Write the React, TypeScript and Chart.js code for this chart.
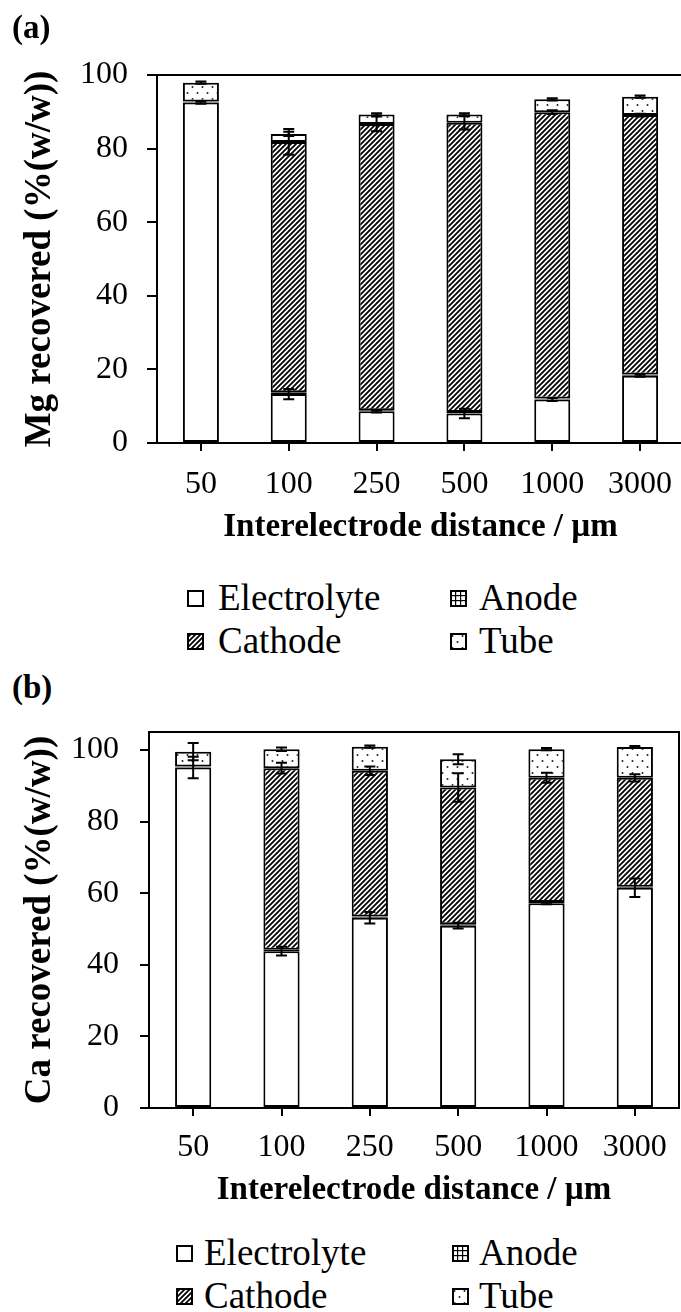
import React, { useEffect, useRef } from 'react';
import { Chart, registerables } from 'chart.js';

Chart.register(...registerables);

const SERIF = "'Liberation Serif', serif";

const categories = ['50', '100', '250', '500', '1000', '3000'];
const seriesNames = ['Electrolyte', 'Anode', 'Cathode', 'Tube'];
const yTickValues = [0, 20, 40, 60, 80, 100];

// (a) Mg recovered (%(w/w)) — stacked segments
const mgElectrolyte = [92.5, 13.3, 8.6, 8.0, 11.8, 18.3];
const mgAnode = [0.3, 0.5, 0.3, 0.4, 0.3, 0.3];
const mgCathode = [0, 68.0, 77.8, 78.6, 77.8, 70.5];
const mgTube = [5.1, 2.2, 2.6, 2.3, 3.5, 5.0];
const mgElectrolyteErr = [0.3, 1.4, 0.3, 1.3, 0.4, 0.3];
const mgCathodeErr = [0, 3.5, 2.0, 1.8, 0.5, 0.4];
const mgTubeErr = [0.3, 0.6, 0.3, 0.3, 0.3, 0.3];
const mgMax = 100;

// (b) Ca recovered (%(w/w)) — stacked segments
const caElectrolyte = [95.1, 43.8, 53.1, 50.9, 57.2, 61.5];
const caAnode = [0.3, 0.4, 0.4, 0.4, 0.3, 0.3];
const caCathode = [0, 50.7, 40.7, 38.2, 34.7, 30.4];
const caTube = [4.1, 5.3, 6.7, 7.9, 8.0, 8.6];
const caElectrolyteErr = [3.0, 1.2, 1.6, 0.8, 0.3, 2.6];
const caCathodeErr = [0, 1.5, 1.2, 4.0, 1.4, 1.0];
const caTubeErr = [2.4, 0.5, 0.3, 1.4, 0.3, 0.3];
const caMax = 105;

function makeTile(kind: string): HTMLCanvasElement | null {
  const t = document.createElement('canvas');
  const g = t.getContext('2d')!;
  if (kind === 'Cathode') {
    const s = 5;
    t.width = s; t.height = s;
    g.fillStyle = '#fff'; g.fillRect(0, 0, s, s);
    g.strokeStyle = '#000'; g.lineWidth = 1.8;
    g.beginPath();
    for (const k of [-s, 0, s]) {
      g.moveTo(k - 1, s + 1);
      g.lineTo(k + s + 1, -1);
    }
    g.stroke();
    return t;
  }
  if (kind === 'Tube') {
    t.width = 10; t.height = 12;
    g.fillStyle = '#fff'; g.fillRect(0, 0, 10, 12);
    g.fillStyle = '#222';
    g.beginPath(); g.arc(2.5, 3, 1.0, 0, Math.PI * 2); g.fill();
    g.beginPath(); g.arc(7.5, 9, 1.0, 0, Math.PI * 2); g.fill();
    return t;
  }
  if (kind === 'Anode') {
    t.width = 5; t.height = 5;
    g.fillStyle = '#fff'; g.fillRect(0, 0, 5, 5);
    g.fillStyle = '#000';
    g.fillRect(0, 0, 5, 1.2);
    g.fillRect(0, 0, 1.2, 5);
    return t;
  }
  return null;
}

function makeFill(ctx: CanvasRenderingContext2D, kind: string): string | CanvasPattern {
  const tile = makeTile(kind);
  if (!tile) return '#ffffff';
  return ctx.createPattern(tile, 'repeat') as CanvasPattern;
}

const framePlugin = {
  id: 'frame',
  afterDraw(chart: any) {
    const { ctx, chartArea: a } = chart;
    ctx.save();
    ctx.strokeStyle = '#000';
    ctx.lineWidth = 2;
    ctx.strokeRect(a.left, a.top, a.right - a.left, a.bottom - a.top);
    ctx.restore();
  },
};

const errorBarPlugin = {
  id: 'errorBars',
  afterDatasetsDraw(chart: any, _args: any, opts: any) {
    const errs: (number[] | null)[] = opts.errors || [];
    const y = chart.scales.y;
    const ctx = chart.ctx;
    ctx.save();
    ctx.strokeStyle = '#000';
    ctx.lineWidth = 2;
    errs.forEach((arr, di) => {
      if (!arr) return;
      const meta = chart.getDatasetMeta(di);
      arr.forEach((e, i) => {
        const v = chart.data.datasets[di].data[i];
        if (!e || !v) return;
        const el = meta.data[i];
        const cx = el.x;
        const cy = el.y;
        const d = Math.abs(y.getPixelForValue(0) - y.getPixelForValue(e));
        ctx.beginPath();
        ctx.moveTo(cx, cy - d); ctx.lineTo(cx, cy + d);
        ctx.moveTo(cx - 5.5, cy - d); ctx.lineTo(cx + 5.5, cy - d);
        ctx.moveTo(cx - 5.5, cy + d); ctx.lineTo(cx + 5.5, cy + d);
        ctx.stroke();
      });
    });
    ctx.restore();
  },
};

interface PanelCfg {
  values: number[][];
  errors: (number[] | null)[];
  yMax: number;
  yTitle: string;
  padding: { top: number; left: number; right: number; bottom: number };
  yWidth: number;
  yTickPad: number;
  yTickLen: number;
  xTickPad: number;
  xTitlePad: number;
}

function StackChart({ cfg, width, height, left, top }: { cfg: PanelCfg; width: number; height: number; left: number; top: number }) {
  const ref = useRef<HTMLCanvasElement>(null);
  useEffect(() => {
    const canvas = ref.current!;
    const ctx = canvas.getContext('2d')!;
    const common = {
      borderColor: '#000',
      borderWidth: 2,
      borderSkipped: false,
      barPercentage: 0.41,
      categoryPercentage: 1,
      stack: 's',
    };
    const chart = new Chart(ctx, {
      type: 'bar',
      data: {
        labels: categories,
        datasets: seriesNames.map((name, i) => ({
          label: name,
          data: cfg.values[i],
          backgroundColor: makeFill(ctx, name),
          ...common,
        })) as any,
      },
      options: {
        responsive: false,
        animation: false,
        devicePixelRatio: 1,
        font: { family: SERIF },
        layout: { padding: cfg.padding },
        plugins: {
          legend: { display: false },
          tooltip: { enabled: false },
          errorBars: { errors: cfg.errors },
        } as any,
        scales: {
          x: {
            stacked: true,
            grid: {
              display: true,
              drawOnChartArea: false,
              drawTicks: true,
              tickLength: 8,
              offset: false,
              color: '#000',
              lineWidth: 2,
            },
            border: { display: true, color: '#000', width: 2 },
            ticks: {
              color: '#000',
              font: { family: SERIF, size: 32 },
              padding: cfg.xTickPad,
              maxRotation: 0,
              autoSkip: false,
            },
            title: {
              display: true,
              text: 'Interelectrode distance / µm',
              color: '#000',
              font: { family: SERIF, size: 33, weight: 'bold' },
              padding: { top: 0, bottom: cfg.xTitlePad },
            },
            afterFit: (s: any) => { s.height = 110; },
          },
          y: {
            stacked: true,
            min: 0,
            max: cfg.yMax,
            afterBuildTicks: (s: any) => {
              s.ticks = yTickValues.map((v) => ({ value: v }));
            },
            grid: {
              drawOnChartArea: false,
              drawTicks: true,
              tickLength: cfg.yTickLen,
              color: '#000',
              lineWidth: 2,
            },
            border: { display: true, color: '#000', width: 2 },
            ticks: {
              color: '#000',
              font: { family: SERIF, size: 32 },
              padding: cfg.yTickPad,
            },
            title: {
              display: true,
              text: cfg.yTitle,
              color: '#000',
              font: { family: SERIF, size: 37, weight: 'bold' },
              padding: { top: 18, bottom: 0 },
            },
            afterFit: (s: any) => { s.width = cfg.yWidth; },
          },
        } as any,
      },
      plugins: [framePlugin, errorBarPlugin],
    });
    return () => chart.destroy();
  }, [cfg]);
  return (
    <canvas
      ref={ref}
      width={width}
      height={height}
      style={{ position: 'absolute', left, top, width, height }}
    />
  );
}

function Swatch({ kind, left, top }: { kind: string; left: number; top: number }) {
  const ref = useRef<HTMLCanvasElement>(null);
  useEffect(() => {
    const c = ref.current!;
    const g = c.getContext('2d')!;
    g.clearRect(0, 0, 17, 17);
    g.fillStyle = makeFill(g, kind);
    g.fillRect(1, 1, 15, 15);
    g.strokeStyle = '#000';
    g.lineWidth = 2;
    g.strokeRect(1, 1, 15, 15);
  }, [kind]);
  return <canvas ref={ref} width={17} height={17} style={{ position: 'absolute', left, top }} />;
}

function Legend({ col1Box, col1Text, col2Box, col2Text, baselines }: { col1Box: number; col1Text: number; col2Box: number; col2Text: number; baselines: number[] }) {
  const rows = [['Electrolyte', 'Anode'], ['Cathode', 'Tube']];
  const items: React.ReactNode[] = [];
  rows.forEach((row, r) => {
    const base = baselines[r];
    const textTop = base - 31;
    const boxTop = base - 20;
    row.forEach((name, c) => {
      const bx = c === 0 ? col1Box : col2Box;
      const tx = c === 0 ? col1Text : col2Text;
      items.push(<Swatch key={name + 's'} kind={name} left={bx} top={boxTop} />);
      items.push(
        <div
          key={name + 't'}
          style={{
            position: 'absolute',
            left: tx,
            top: textTop,
            fontFamily: SERIF,
            fontSize: 37,
            lineHeight: '37px',
            color: '#000',
            whiteSpace: 'nowrap',
          }}
        >
          {name}
        </div>
      );
    });
  });
  return <>{items}</>;
}

const panelA: PanelCfg = {
  values: [mgElectrolyte, mgAnode, mgCathode, mgTube],
  errors: [mgElectrolyteErr, null, mgCathodeErr, mgTubeErr],
  yMax: mgMax,
  yTitle: 'Mg recovered (%(w/w))',
  padding: { top: 75, left: 0, right: 16, bottom: 17 },
  yWidth: 157,
  yTickPad: 19,
  yTickLen: 10,
  xTickPad: 14,
  xTitlePad: 6,
};

const panelB: PanelCfg = {
  values: [caElectrolyte, caAnode, caCathode, caTube],
  errors: [caElectrolyteErr, null, caCathodeErr, caTubeErr],
  yMax: caMax,
  yTitle: 'Ca recovered (%(w/w))',
  padding: { top: 82, left: 0, right: 2, bottom: 2 },
  yWidth: 149,
  yTickPad: 21,
  yTickLen: 9,
  xTickPad: 12,
  xTitlePad: 8,
};

const labelStyle: React.CSSProperties = {
  position: 'absolute',
  fontFamily: SERIF,
  fontWeight: 'bold',
  fontSize: 33,
  lineHeight: '33px',
  color: '#000',
};

export default function App() {
  return (
    <div
      style={{
        position: 'absolute',
        left: 0,
        top: 0,
        width: 681,
        height: 1312,
        overflow: 'hidden',
        background: '#fff',
        fontFamily: SERIF,
      }}
    >
      <StackChart cfg={panelA} width={700} height={570} left={0} top={0} />
      <div style={{ ...labelStyle, left: 12, top: 11 }}>(a)</div>
      <Legend col1Box={187} col1Text={218} col2Box={450} col2Text={479} baselines={[610, 653]} />
      <div style={{ ...labelStyle, left: 12, top: 671 }}>(b)</div>
      <StackChart cfg={panelB} width={681} height={570} left={0} top={650} />
      <Legend col1Box={176} col1Text={204} col2Box={452} col2Text={479} baselines={[1265, 1308]} />
    </div>
  );
}
